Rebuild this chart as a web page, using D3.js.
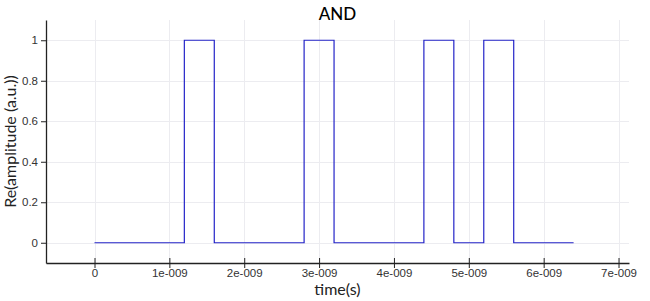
<!DOCTYPE html>
<html>
<head>
<meta charset="utf-8">
<script src="https://cdn.jsdelivr.net/npm/d3@7"></script>
<style>
  body { margin: 0; background: #fff; }
  svg { font-family: "Lato", "DejaVu Sans", sans-serif; }
</style>
</head>
<body>
<svg id="chart" width="650" height="301"></svg>
<script>
// step signal of the AND output: edge times (s) and level after each edge
var edgeTimes = [0, 1.2e-9, 1.6e-9, 2.8e-9, 3.2e-9, 4.4e-9, 4.8e-9, 5.2e-9, 5.6e-9, 6.4e-9];
var levels = [0, 1, 0, 1, 0, 1, 0, 1, 0, 0];
var xTicks = [0, 1e-9, 2e-9, 3e-9, 4e-9, 5e-9, 6e-9, 7e-9];
var xTickLabels = ["0", "1e-009", "2e-009", "3e-009", "4e-009", "5e-009", "6e-009", "7e-009"];
var yTicks = [0, 0.2, 0.4, 0.6, 0.8, 1];
var yTickLabels = ["0", "0.2", "0.4", "0.6", "0.8", "1"];

var svg = d3.select("#chart");
var margin = { top: 20, right: 21, bottom: 38, left: 46 };
var width = 650 - margin.left - margin.right,
    height = 301 - margin.top - margin.bottom;

var x = d3.scaleLinear().domain([-0.648e-9, 7.14e-9]).range([0, width]);
var y = d3.scaleLinear().domain([-0.1, 1.1]).range([height, 0]);

var g = svg.append("g").attr("transform", "translate(" + margin.left + "," + margin.top + ")");

// grid
g.selectAll(".vgrid").data(xTicks).enter().append("line")
    .attr("x1", function (d) { return Math.round(x(d)) + 0.5; })
    .attr("x2", function (d) { return Math.round(x(d)) + 0.5; })
    .attr("y1", 0).attr("y2", height)
    .attr("stroke", "#ececf0");
g.selectAll(".hgrid").data(yTicks).enter().append("line")
    .attr("y1", function (d) { return Math.round(y(d)) + 0.5; })
    .attr("y2", function (d) { return Math.round(y(d)) + 0.5; })
    .attr("x1", 0).attr("x2", width)
    .attr("stroke", "#ececf0");

// signal as steps
var pts = [];
edgeTimes.forEach(function (t, i) {
    if (i > 0) pts.push([t, levels[i - 1]]);
    pts.push([t, levels[i]]);
});
var line = d3.line()
    .x(function (d) { return x(d[0]); })
    .y(function (d) { return y(d[1]); });
g.append("path")
    .datum(pts)
    .attr("d", line)
    .attr("fill", "none")
    .attr("stroke", "#2424c8")
    .attr("stroke-width", 1.2);

// axes
var xAxis = d3.axisBottom(x).tickValues(xTicks).tickSize(5).tickSizeOuter(0)
    .tickFormat(function (d, i) { return xTickLabels[i]; });
var yAxis = d3.axisLeft(y).tickValues(yTicks).tickSize(5).tickSizeOuter(0)
    .tickFormat(function (d, i) { return yTickLabels[i]; });

var gx = g.append("g").attr("transform", "translate(0," + height + ")").call(xAxis);
var gy = g.append("g").call(yAxis);
[gx, gy].forEach(function (a) {
    a.select(".domain").attr("stroke", "#222").attr("stroke-width", 1.3);
    a.selectAll(".tick line").attr("stroke", "#222");
    a.selectAll(".tick text").attr("fill", "#333").style("font-size", "11.5px");
});
gx.selectAll(".tick line").attr("y2", -5).attr("y1", 5);
gx.selectAll(".tick text").attr("y", 6);
gy.selectAll(".tick line").attr("x1", 0).attr("x2", -5);

// labels
svg.append("text")
    .attr("x", margin.left + width / 2).attr("y", 20)
    .attr("text-anchor", "middle")
    .style("font-size", "17px").style("font-weight", "500")
    .text("AND");
svg.append("text")
    .attr("x", margin.left + width / 2).attr("y", 295)
    .attr("text-anchor", "middle")
    .style("font-size", "16px").attr("fill", "#222")
    .text("time(s)");
svg.append("text")
    .attr("transform", "translate(16," + (margin.top + height / 2) + ") rotate(-90)")
    .attr("text-anchor", "middle")
    .style("font-size", "16px").attr("fill", "#222")
    .text("Re(amplitude (a.u.))");
</script>
</body>
</html>
